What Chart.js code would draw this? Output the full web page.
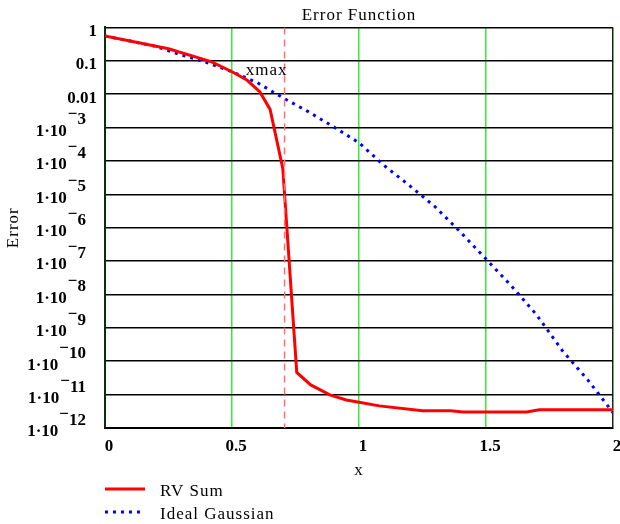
<!DOCTYPE html>
<html>
<head>
<meta charset="utf-8">
<title>Error Function</title>
<script src="https://cdn.jsdelivr.net/npm/chart.js@4/dist/chart.umd.min.js"></script>
<style>
  html, body { margin: 0; padding: 0; background: #fff; }
  #chart { display: block; }
</style>
</head>
<body>
<canvas id="chart" width="620" height="524"></canvas>
<script>
// --- data ---
const gaussX = [0, 0.1, 0.2, 0.3, 0.4, 0.5, 0.6, 0.7, 0.8, 0.9, 1.0, 1.1, 1.2, 1.3, 1.4, 1.5, 1.6, 1.7, 1.8, 1.9, 2.0];
const gaussY = [0.55, 0.39, 0.27, 0.15, 0.089, 0.047, 0.022, 0.0078, 0.003, 0.00105, 3.5e-4, 7.2e-5, 1.8e-5, 4.2e-6, 7.3e-7, 1.15e-7, 1.8e-8, 2.4e-9, 2.1e-10, 2.8e-11, 2.9e-12];

const rvX = [0, 0.25, 0.42, 0.5, 0.56, 0.61, 0.65, 0.70, 0.755, 0.81, 0.885, 0.95, 1.0, 1.08, 1.25, 1.36, 1.41, 1.66, 1.71, 2.0];
const rvY = [0.55, 0.23, 0.093, 0.047, 0.026, 0.0117, 0.0035, 6e-5, 4.6e-11, 1.95e-11, 9.8e-12, 6.9e-12, 5.9e-12, 4.6e-12, 3.3e-12, 3.3e-12, 3.0e-12, 3.0e-12, 3.5e-12, 3.5e-12];

const xmaxX = 0.707;

const xTicks = [0, 0.5, 1, 1.5, 2];
const xTickLabels = ['0', '0.5', '1', '1.5', '2'];

const yTicks = [1, 0.1, 0.01, 1e-3, 1e-4, 1e-5, 1e-6, 1e-7, 1e-8, 1e-9, 1e-10, 1e-11, 1e-12];
const yTickMain = ['1', '0.1', '0.01', '1·10', '1·10', '1·10', '1·10', '1·10', '1·10', '1·10', '1·10', '1·10', '1·10'];
const yTickExp = ['', '', '', '−3', '−4', '−5', '−6', '−7', '−8', '−9', '−10', '−11', '−12'];

const serif = "'Liberation Serif', 'DejaVu Serif', serif";

// tick labels, axis titles, marker label and legend in the Mathcad look
const mathcadText = {
    id: 'mathcadText',
    beforeDraw(chart) {
        chart.ctx.letterSpacing = '1px';
    },
    afterDraw(chart) {
        const { ctx, scales: { x, y }, chartArea } = chart;
        ctx.save();
        ctx.fillStyle = '#000';
        ctx.textBaseline = 'middle';

        // y tick labels
        ctx.letterSpacing = '0px';
        ctx.font = `bold 17px ${serif}`;
        ctx.textAlign = 'right';
        yTicks.forEach((v, i) => {
            const py = y.getPixelForValue(v);
            const exp = yTickExp[i];
            if (!exp) {
                ctx.fillText(yTickMain[i], 97, py + 4);
                return;
            }
            const digits = exp.replace('−', '');
            ctx.fillText(digits, 86, py - 7.5);
            const dw = ctx.measureText(digits).width;
            ctx.fillText('−', 86 - dw, py - 13);
            const mw = ctx.measureText('−').width;
            ctx.fillText(yTickMain[i], 86 - dw - mw - 1, py + 4);
        });

        // x tick labels
        ctx.textAlign = 'center';
        xTicks.forEach((v, i) => {
            ctx.fillText(xTickLabels[i], x.getPixelForValue(v) + 4, 447);
        });

        // axis titles
        ctx.letterSpacing = '1px';
        ctx.font = `17px ${serif}`;
        ctx.fillText('x', x.getPixelForValue(1), 471);
        ctx.save();
        ctx.translate(14, (chartArea.top + chartArea.bottom) / 2);
        ctx.rotate(-Math.PI / 2);
        ctx.fillText('Error', 0, 0);
        ctx.restore();

        // xmax marker label
        ctx.textAlign = 'right';
        ctx.fillText('xmax', x.getPixelForValue(xmaxX) + 3, chartArea.top + 43);

        // legend
        ctx.textAlign = 'left';
        ctx.lineWidth = 3;
        ctx.strokeStyle = '#ff0000';
        ctx.beginPath();
        ctx.moveTo(105, 489);
        ctx.lineTo(145, 489);
        ctx.stroke();
        ctx.fillText('RV Sum', 160, 492);

        ctx.strokeStyle = '#0000ff';
        ctx.setLineDash([3, 5]);
        ctx.beginPath();
        ctx.moveTo(105, 512);
        ctx.lineTo(141, 512);
        ctx.stroke();
        ctx.setLineDash([]);
        ctx.fillText('Ideal Gaussian', 160, 515);

        ctx.restore();
    }
};

const ctx = document.getElementById('chart').getContext('2d');

new Chart(ctx, {
    type: 'line',
    data: {
        datasets: [
            {
                label: 'xmax',
                data: [{ x: xmaxX, y: yTicks[0] }, { x: xmaxX, y: yTicks[yTicks.length - 1] }],
                borderColor: '#ff7070',
                borderWidth: 1.5,
                borderDash: [7, 5],
                pointRadius: 0
            },
            {
                label: 'RV Sum',
                data: rvX.map((v, i) => ({ x: v, y: rvY[i] })),
                borderColor: '#ff0000',
                borderWidth: 3,
                pointRadius: 0,
                tension: 0
            },
            {
                label: 'Ideal Gaussian',
                data: gaussX.map((v, i) => ({ x: v, y: gaussY[i] })),
                borderColor: '#0000ff',
                borderWidth: 3,
                borderDash: [3, 5],
                pointRadius: 0,
                tension: 0
            }
        ]
    },
    options: {
        responsive: false,
        animation: false,
        devicePixelRatio: 1,
        layout: { padding: { top: 0, right: 7, bottom: 0, left: 0 } },
        plugins: {
            legend: { display: false },
            tooltip: { enabled: false },
            title: {
                display: true,
                text: 'Error Function',
                color: '#000',
                fullSize: false,
                font: { family: serif, size: 17, weight: 'normal', lineHeight: 1.2 },
                padding: { top: 5, bottom: 2 }
            }
        },
        scales: {
            x: {
                type: 'linear',
                min: 0,
                max: 2,
                afterBuildTicks: (scale) => { scale.ticks = xTicks.map(v => ({ value: v })); },
                afterFit: (scale) => { scale.height = 96; },
                ticks: { display: false },
                grid: {
                    drawTicks: false,
                    lineWidth: 1.5,
                    color: (c) => (c.tick && (c.tick.value === 0 || c.tick.value === 2)) ? '#0a300a' : '#33ee33'
                },
                border: { display: true, color: '#000', width: 2 }
            },
            y: {
                type: 'logarithmic',
                min: 1e-12,
                max: 1,
                afterBuildTicks: (scale) => { scale.ticks = yTicks.map(v => ({ value: v })); },
                afterFit: (scale) => { scale.width = 105; },
                ticks: { display: false },
                grid: { drawTicks: false, lineWidth: 1.5, color: '#000' },
                border: { display: true, color: '#0a300a', width: 2 }
            }
        }
    },
    plugins: [mathcadText]
});
</script>
</body>
</html>
